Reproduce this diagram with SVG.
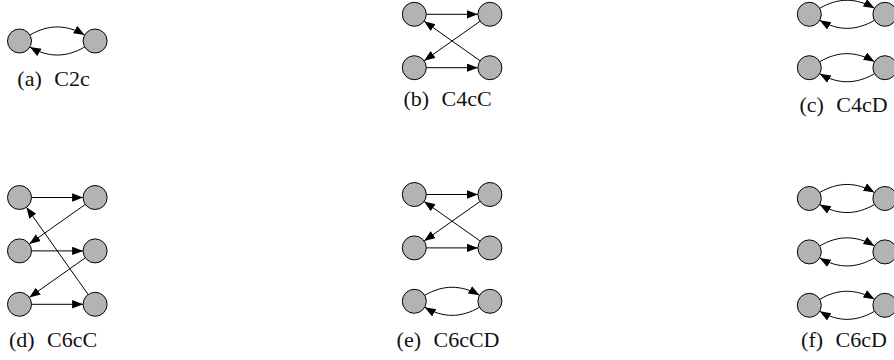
<svg xmlns="http://www.w3.org/2000/svg" width="894" height="360" viewBox="0 0 894 360">
<style>
.node{fill:#b3b3b3;stroke:#000;stroke-width:1}
.edge{fill:none;stroke:#000;stroke-width:1;marker-end:url(#arr)}
.label{font-family:"Liberation Serif","Times New Roman",serif;font-size:22px;text-anchor:middle;word-spacing:7px;fill:#111}
</style>
<defs>
<marker id="arr" markerUnits="userSpaceOnUse" markerWidth="12" markerHeight="10" refX="11" refY="4.2" orient="auto">
<path d="M0,0 L11,4.2 L0,8.4 z" fill="#000"/>
</marker>
</defs>
<rect width="894" height="360" fill="#fff"/>

<g id="fig-a" transform="translate(19.5,41)">
<g id="a-edges">
<path class="edge" d="M10.39,-6 C28.98,-16.73 46.62,-16.73 65.21,-6"/>
<path class="edge" d="M65.21,6 C46.62,16.73 28.98,16.73 10.39,6"/>
</g>
<g id="a-n1"><circle class="node" cx="0" cy="0" r="12"/></g>
<g id="a-n2"><circle class="node" cx="75.6" cy="0" r="12"/></g>
<text class="label" x="34" y="44.5">(a) C2c</text>
</g>

<g id="fig-b" transform="translate(414.3,14.3)">
<g id="b-edges">
<path class="edge" d="M12,0 L63.6,0"/>
<path class="edge" d="M65.8,6.92 L9.8,46.48"/>
<path class="edge" d="M12,53.4 L63.6,53.4"/>
<path class="edge" d="M65.8,46.48 L9.8,6.92"/>
</g>
<g id="b-n1"><circle class="node" cx="0" cy="0" r="12"/></g>
<g id="b-n2"><circle class="node" cx="75.6" cy="0" r="12"/></g>
<g id="b-n3"><circle class="node" cx="0" cy="53.4" r="12"/></g>
<g id="b-n4"><circle class="node" cx="75.6" cy="53.4" r="12"/></g>
<text class="label" x="33.2" y="92.2">(b) C4cC</text>
</g>

<g id="fig-c" transform="translate(809.3,14.3)">
<g id="c-edges">
<path class="edge" d="M10.39,-6 C28.98,-16.73 46.62,-16.73 65.21,-6"/>
<path class="edge" d="M65.21,6 C46.62,16.73 28.98,16.73 10.39,6"/>
<path class="edge" d="M10.39,47.4 C28.98,36.67 46.62,36.67 65.21,47.4"/>
<path class="edge" d="M65.21,59.4 C46.62,70.13 28.98,70.13 10.39,59.4"/>
</g>
<g id="c-n1"><circle class="node" cx="0" cy="0" r="12"/></g>
<g id="c-n2"><circle class="node" cx="75.6" cy="0" r="12"/></g>
<g id="c-n3"><circle class="node" cx="0" cy="53.4" r="12"/></g>
<g id="c-n4"><circle class="node" cx="75.6" cy="53.4" r="12"/></g>
<text class="label" x="34.2" y="98.2">(c) C4cD</text>
</g>

<g id="fig-d" transform="translate(19.5,197.5)">
<g id="d-edges">
<path class="edge" d="M12,0 L63.6,0"/>
<path class="edge" d="M65.8,6.92 L9.8,46.48"/>
<path class="edge" d="M12,53.4 L63.6,53.4"/>
<path class="edge" d="M65.8,60.32 L9.8,99.88"/>
<path class="edge" d="M12,106.8 L63.6,106.8"/>
<path class="edge" d="M68.67,97.01 L6.93,9.79"/>
</g>
<g id="d-n1"><circle class="node" cx="0" cy="0" r="12"/></g>
<g id="d-n2"><circle class="node" cx="75.6" cy="0" r="12"/></g>
<g id="d-n3"><circle class="node" cx="0" cy="53.4" r="12"/></g>
<g id="d-n4"><circle class="node" cx="75.6" cy="53.4" r="12"/></g>
<g id="d-n5"><circle class="node" cx="0" cy="106.8" r="12"/></g>
<g id="d-n6"><circle class="node" cx="75.6" cy="106.8" r="12"/></g>
<text class="label" x="33.5" y="149">(d) C6cC</text>
</g>

<g id="fig-e" transform="translate(414.3,194.5)">
<g id="e-edges">
<path class="edge" d="M12,0 L63.6,0"/>
<path class="edge" d="M65.8,6.92 L9.8,46.48"/>
<path class="edge" d="M12,53.4 L63.6,53.4"/>
<path class="edge" d="M65.8,46.48 L9.8,6.92"/>
<path class="edge" d="M10.39,100.8 C28.98,90.07 46.62,90.07 65.21,100.8"/>
<path class="edge" d="M65.21,112.8 C46.62,123.53 28.98,123.53 10.39,112.8"/>
</g>
<g id="e-n1"><circle class="node" cx="0" cy="0" r="12"/></g>
<g id="e-n2"><circle class="node" cx="75.6" cy="0" r="12"/></g>
<g id="e-n3"><circle class="node" cx="0" cy="53.4" r="12"/></g>
<g id="e-n4"><circle class="node" cx="75.6" cy="53.4" r="12"/></g>
<g id="e-n5"><circle class="node" cx="0" cy="106.8" r="12"/></g>
<g id="e-n6"><circle class="node" cx="75.6" cy="106.8" r="12"/></g>
<text class="label" x="33.7" y="152">(e) C6cCD</text>
</g>

<g id="fig-f" transform="translate(809.3,198.5)">
<g id="f-edges">
<path class="edge" d="M10.39,-6 C28.98,-16.73 46.62,-16.73 65.21,-6"/>
<path class="edge" d="M65.21,6 C46.62,16.73 28.98,16.73 10.39,6"/>
<path class="edge" d="M10.39,47.4 C28.98,36.67 46.62,36.67 65.21,47.4"/>
<path class="edge" d="M65.21,59.4 C46.62,70.13 28.98,70.13 10.39,59.4"/>
<path class="edge" d="M10.39,100.8 C28.98,90.07 46.62,90.07 65.21,100.8"/>
<path class="edge" d="M65.21,112.8 C46.62,123.53 28.98,123.53 10.39,112.8"/>
</g>
<g id="f-n1"><circle class="node" cx="0" cy="0" r="12"/></g>
<g id="f-n2"><circle class="node" cx="75.6" cy="0" r="12"/></g>
<g id="f-n3"><circle class="node" cx="0" cy="53.4" r="12"/></g>
<g id="f-n4"><circle class="node" cx="75.6" cy="53.4" r="12"/></g>
<g id="f-n5"><circle class="node" cx="0" cy="106.8" r="12"/></g>
<g id="f-n6"><circle class="node" cx="75.6" cy="106.8" r="12"/></g>
<text class="label" x="34.7" y="148">(f) C6cD</text>
</g>
</svg>
